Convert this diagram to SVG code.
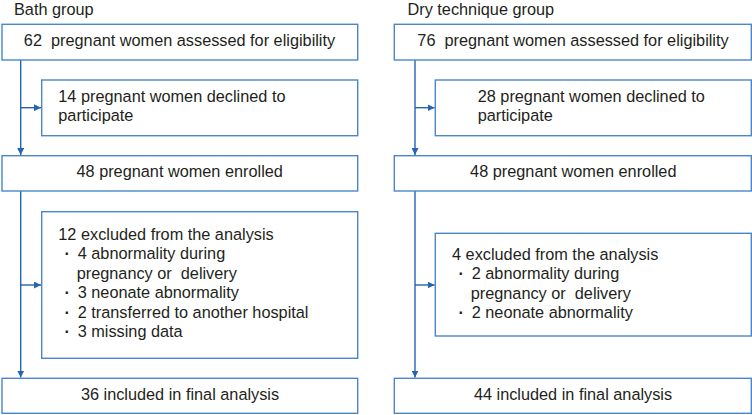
<svg xmlns="http://www.w3.org/2000/svg" width="752" height="415" viewBox="0 0 752 415" xml:space="preserve">
<defs>
<style>
.box{fill:#fff;stroke:#4a86c8;stroke-width:1.4}
.t{font-family:"Liberation Sans",Arial,sans-serif;font-size:16.3px;fill:#231f20;white-space:pre}
.c{text-anchor:middle}
.b{font-weight:bold}
.ln{stroke:#2563b3;stroke-width:1.4;fill:none}
</style>
<marker id="ah" viewBox="0 0 10 10" refX="10" refY="5" markerWidth="7" markerHeight="7" markerUnits="userSpaceOnUse" orient="auto">
<path d="M0,0 L10,5 L0,10 Z" fill="#2563b3"/>
</marker>
</defs>
<rect width="752" height="415" fill="#fff"/>
<text class="t" x="14" y="14.5">Bath group</text>
<text class="t" x="407.5" y="14.5">Dry technique group</text>
<g id="connectors">
<path class="ln" d="M20.7,60 V155" marker-end="url(#ah)"/>
<path class="ln" d="M20.7,107.7 H41" marker-end="url(#ah)"/>
<path class="ln" d="M20.7,191 V377.6" marker-end="url(#ah)"/>
<path class="ln" d="M20.7,285 H41" marker-end="url(#ah)"/>
<path class="ln" d="M415,60 V155" marker-end="url(#ah)"/>
<path class="ln" d="M415,107.7 H434.6" marker-end="url(#ah)"/>
<path class="ln" d="M415,191 V377.6" marker-end="url(#ah)"/>
<path class="ln" d="M415,285 H434.6" marker-end="url(#ah)"/>
</g>
<g id="bath-assessed">
<rect class="box" x="2" y="24.3" width="355.7" height="35.7"/>
<text class="t c" x="179.5" y="45.7">62  pregnant women assessed for eligibility</text>
</g>
<g id="bath-declined">
<rect class="box" x="41.7" y="80" width="316" height="55.7"/>
<text class="t" x="58.3" y="102">14 pregnant women declined to</text>
<text class="t" x="58.3" y="121">participate</text>
</g>
<g id="bath-enrolled">
<rect class="box" x="2" y="155.7" width="355.7" height="35.3"/>
<text class="t c" x="179.7" y="177.3">48 pregnant women enrolled</text>
</g>
<g id="bath-excluded">
<rect class="box" x="41.7" y="211.7" width="316" height="146.6"/>
<text class="t" x="58.3" y="240">12 excluded from the analysis</text>
<text class="t" y="259.4"><tspan class="b" x="64.5">·</tspan><tspan x="77.7">4 abnormality during</tspan></text>
<text class="t" x="76.7" y="278.8">pregnancy or  delivery</text>
<text class="t" y="298.2"><tspan class="b" x="64.5">·</tspan><tspan x="77.7">3 neonate abnormality</tspan></text>
<text class="t" y="317.6"><tspan class="b" x="64.5">·</tspan><tspan x="77.7">2 transferred to another hospital</tspan></text>
<text class="t" y="337"><tspan class="b" x="64.5">·</tspan><tspan x="77.7">3 missing data</tspan></text>
</g>
<g id="bath-final">
<rect class="box" x="2" y="378.3" width="355.7" height="35"/>
<text class="t c" x="180" y="400">36 included in final analysis</text>
</g>
<g id="dry-assessed">
<rect class="box" x="394.3" y="24.3" width="357" height="35.7"/>
<text class="t c" x="573" y="45.7">76  pregnant women assessed for eligibility</text>
</g>
<g id="dry-declined">
<rect class="box" x="435.3" y="80" width="316" height="55.7"/>
<text class="t" x="477.7" y="102">28 pregnant women declined to</text>
<text class="t" x="477.7" y="121">participate</text>
</g>
<g id="dry-enrolled">
<rect class="box" x="394.3" y="155.7" width="357" height="35.3"/>
<text class="t c" x="573.3" y="177.3">48 pregnant women enrolled</text>
</g>
<g id="dry-excluded">
<rect class="box" x="435.3" y="233.3" width="316" height="102.7"/>
<text class="t" x="452" y="260">4 excluded from the analysis</text>
<text class="t" y="279.4"><tspan class="b" x="458.5">·</tspan><tspan x="471.7">2 abnormality during</tspan></text>
<text class="t" x="470.7" y="298.8">pregnancy or  delivery</text>
<text class="t" y="318.2"><tspan class="b" x="458.5">·</tspan><tspan x="471.7">2 neonate abnormality</tspan></text>
</g>
<g id="dry-final">
<rect class="box" x="394.3" y="378.3" width="357" height="35"/>
<text class="t c" x="573" y="400">44 included in final analysis</text>
</g>
</svg>
